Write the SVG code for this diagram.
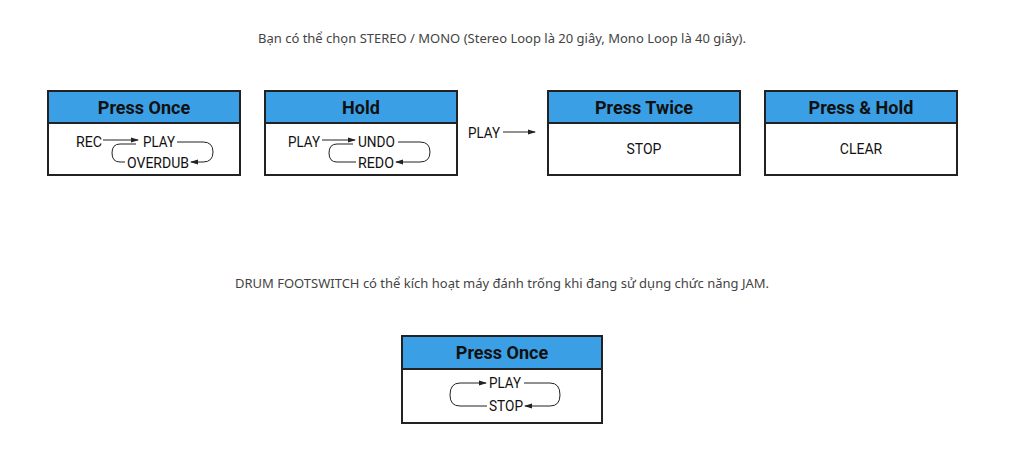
<svg xmlns="http://www.w3.org/2000/svg" width="1024" height="456" viewBox="0 0 1024 456">
<style>
.cap{font-family:"Noto Sans",sans-serif;font-size:13px;fill:#444;text-anchor:middle}
.hd{fill:#3a9fe4;stroke:#222;stroke-width:2}
.bx{fill:#fff;stroke:#222;stroke-width:2}
.ht{font-family:Roboto,"Liberation Sans",sans-serif;font-weight:bold;font-size:18px;fill:#111;text-anchor:middle}
.t{font-family:Roboto,"Liberation Sans",sans-serif;font-size:14px;fill:#111}
.ln{fill:none;stroke:#222;stroke-width:1}
</style>
<defs><marker id="a" markerWidth="8" markerHeight="6" refX="7" refY="3" orient="auto" markerUnits="userSpaceOnUse"><path d="M0,0.5 L8,3 L0,5.5 Z" fill="#222"/></marker></defs>
<text class="cap" x="502" y="43">Bạn có thể chọn STEREO / MONO (Stereo Loop là 20 giây, Mono Loop là 40 giây).</text>
<text class="cap" x="502" y="288">DRUM FOOTSWITCH có thể kích hoạt máy đánh trống khi đang sử dụng chức năng JAM.</text>
<g id="n1"><rect class="bx" x="48" y="91" width="192" height="84"/><rect class="hd" x="48" y="91" width="192" height="32"/><text class="ht" x="144" y="114">Press  Once</text>
<text class="t" x="76" y="147" textLength="26" lengthAdjust="spacingAndGlyphs">REC</text><text class="t" x="143" y="147" textLength="32" lengthAdjust="spacingAndGlyphs">PLAY</text><text class="t" x="127" y="168" textLength="62" lengthAdjust="spacingAndGlyphs">OVERDUB</text></g>
<g id="n2"><rect class="bx" x="265" y="91" width="192" height="84"/><rect class="hd" x="265" y="91" width="192" height="32"/><text class="ht" x="361" y="114">Hold</text>
<text class="t" x="288" y="147" textLength="32" lengthAdjust="spacingAndGlyphs">PLAY</text><text class="t" x="358" y="147" textLength="37" lengthAdjust="spacingAndGlyphs">UNDO</text><text class="t" x="358" y="168" textLength="36" lengthAdjust="spacingAndGlyphs">REDO</text></g>
<g id="n3"><rect class="bx" x="548" y="91" width="192" height="84"/><rect class="hd" x="548" y="91" width="192" height="32"/><text class="ht" x="644" y="114">Press  Twice</text><text class="t" x="644" y="154" text-anchor="middle">STOP</text></g>
<g id="n4"><rect class="bx" x="765" y="91" width="192" height="84"/><rect class="hd" x="765" y="91" width="192" height="32"/><text class="ht" x="861" y="114">Press &amp; Hold</text><text class="t" x="861" y="154" text-anchor="middle">CLEAR</text></g>
<text class="t" x="468" y="138" textLength="32" lengthAdjust="spacingAndGlyphs">PLAY</text>
<g id="n5"><rect class="bx" x="402" y="336" width="200" height="87"/><rect class="hd" x="402" y="336" width="200" height="33"/><text class="ht" x="502" y="359">Press  Once</text>
<text class="t" x="489" y="388" textLength="32" lengthAdjust="spacingAndGlyphs">PLAY</text><text class="t" x="489" y="411" textLength="34" lengthAdjust="spacingAndGlyphs">STOP</text></g>
<g id="connectors">
<path class="ln" d="M103,140 H138" marker-end="url(#a)"/>
<path class="ln" d="M136,144 H120 Q112,144 112,153 Q112,162 120,162 H125"/>
<path class="ln" d="M177,142 H203 Q213,142 213,152 Q213,162 203,162 H191" marker-end="url(#a)"/>
<path class="ln" d="M322,140 H355" marker-end="url(#a)"/>
<path class="ln" d="M353,144 H337 Q329,144 329,153 Q329,162 337,162 H356"/>
<path class="ln" d="M398,142 H420 Q430,142 430,152 Q430,162 420,162 H396" marker-end="url(#a)"/>
<path class="ln" d="M503,132 H535" marker-end="url(#a)"/>
<path class="ln" d="M487,406 H460 Q450,406 450,395 Q450,383 460,383 H486" marker-end="url(#a)"/>
<path class="ln" d="M524,383 H550 Q560,383 560,395 Q560,406 550,406 H525" marker-end="url(#a)"/>
</g>
</svg>
